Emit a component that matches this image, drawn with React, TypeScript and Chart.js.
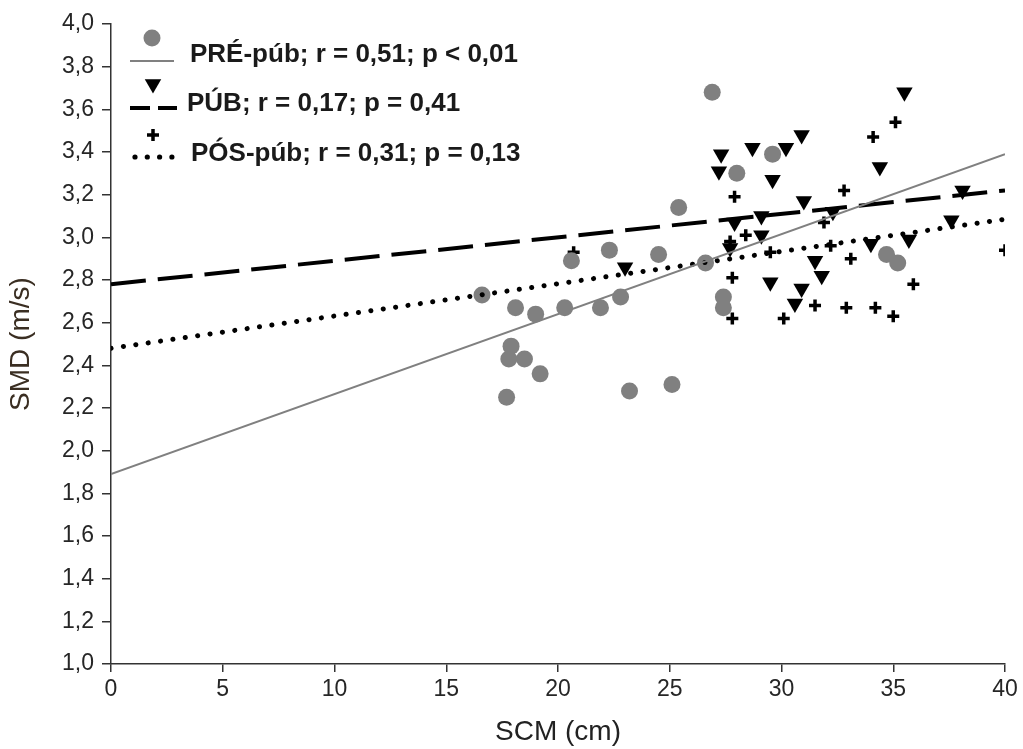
import React, { useEffect, useRef } from "react";
import { Chart, registerables } from "chart.js";

Chart.register(...registerables);

// PRÉ-púb (gray circles)
const preX = [16.6, 18.1, 19.0, 20.3, 21.9, 22.8, 20.6, 22.3, 24.5, 17.9, 17.8, 18.5, 19.2, 17.7, 23.2, 25.1, 26.9, 28.0, 25.4, 26.6, 27.4, 27.4, 29.6, 34.7, 35.2];
const preY = [2.73, 2.67, 2.64, 2.67, 2.67, 2.72, 2.89, 2.94, 2.92, 2.49, 2.43, 2.43, 2.36, 2.25, 2.28, 2.31, 3.68, 3.30, 3.14, 2.88, 2.72, 2.67, 3.39, 2.92, 2.88];
// PÚB (black down triangles)
const pubX = [23.0, 27.3, 27.2, 28.7, 30.2, 30.9, 29.6, 35.5, 34.4, 31.0, 32.3, 27.9, 29.1, 29.1, 27.7, 38.1, 37.6, 34.0, 35.7, 31.5, 31.8, 29.5, 30.9, 30.6];
const pubY = [2.86, 3.39, 3.31, 3.42, 3.42, 3.48, 3.27, 3.68, 3.33, 3.17, 3.12, 3.07, 3.10, 3.01, 2.95, 3.22, 3.08, 2.97, 2.99, 2.89, 2.82, 2.79, 2.76, 2.69];
// PÓS-púb (black crosses)
const posX = [35.1, 34.1, 32.8, 27.9, 31.9, 28.4, 27.7, 29.5, 32.2, 33.1, 40.0, 27.8, 35.9, 31.5, 32.9, 34.2, 35.0, 27.8, 30.1, 20.7];
const posY = [3.54, 3.47, 3.22, 3.19, 3.07, 3.01, 2.98, 2.93, 2.96, 2.90, 2.94, 2.81, 2.78, 2.68, 2.67, 2.67, 2.63, 2.62, 2.62, 2.93];

// regression lines
const lineX = [0, 40];
const preLine = [1.89, 3.39];
const pubLine = [2.78, 3.22];
const posLine = [2.48, 3.085];

const legendLabels = [
  "PRÉ-púb; r = 0,51; p < 0,01",
  "PÚB; r = 0,17; p = 0,41",
  "PÓS-púb; r = 0,31; p = 0,13",
];

const xTitle = "SCM (cm)";
const yTitle = "SMD (m/s)";

const FONT = "'Liberation Sans', Arial, sans-serif";
const GRAY = "#808080";

const pts = (xs: number[], ys: number[]) => xs.map((x, i) => ({ x, y: ys[i] }));

const legendPlugin = {
  id: "customLegend",
  afterDraw(chart: any) {
    const { ctx, chartArea } = chart;
    const L = chartArea.left;
    const T = chartArea.top;
    ctx.save();
    // item 1: circle + solid line
    ctx.fillStyle = GRAY;
    ctx.beginPath();
    ctx.arc(L + 41, T + 14, 8.5, 0, Math.PI * 2);
    ctx.fill();
    ctx.strokeStyle = GRAY;
    ctx.lineWidth = 2;
    ctx.beginPath();
    ctx.moveTo(L + 19, T + 37);
    ctx.lineTo(L + 63, T + 37);
    ctx.stroke();
    // item 2: triangle + dashed line
    ctx.fillStyle = "#000";
    const tx = L + 42, ty = T + 60, r = 9.5;
    ctx.beginPath();
    for (let k = 0; k < 3; k++) {
      const a = Math.PI + k * (2 * Math.PI / 3);
      const px = tx + Math.sin(a) * r;
      const py = ty - Math.cos(a) * r;
      if (k === 0) ctx.moveTo(px, py); else ctx.lineTo(px, py);
    }
    ctx.closePath();
    ctx.fill();
    ctx.strokeStyle = "#000";
    ctx.lineWidth = 4;
    ctx.beginPath();
    ctx.moveTo(L + 19, T + 84);
    ctx.lineTo(L + 39, T + 84);
    ctx.moveTo(L + 47, T + 84);
    ctx.lineTo(L + 66, T + 84);
    ctx.stroke();
    // item 3: cross + dotted line
    ctx.lineWidth = 3.5;
    ctx.beginPath();
    ctx.moveTo(L + 42, T + 105);
    ctx.lineTo(L + 42, T + 117);
    ctx.moveTo(L + 36, T + 111);
    ctx.lineTo(L + 48, T + 111);
    ctx.stroke();
    for (let k = 0; k < 4; k++) {
      ctx.beginPath();
      ctx.arc(L + 24 + k * 12.3, T + 133, 2.6, 0, Math.PI * 2);
      ctx.fill();
    }
    // texts
    ctx.fillStyle = "#1a1a1a";
    ctx.font = `bold 26px ${FONT}`;
    ctx.textBaseline = "alphabetic";
    ctx.textAlign = "left";
    ctx.fillText(legendLabels[0], L + 79, T + 38);
    ctx.fillText(legendLabels[1], L + 76, T + 87);
    ctx.fillText(legendLabels[2], L + 80, T + 137);
    ctx.restore();
  },
};

export default function App() {
  const ref = useRef<HTMLCanvasElement | null>(null);
  useEffect(() => {
    if (!ref.current) return;
    const chart = new Chart(ref.current, {
      type: "scatter",
      data: {
        datasets: [
          {
            type: "line",
            label: "PRÉ line",
            data: pts(lineX, preLine),
            borderColor: GRAY,
            borderWidth: 2,
            pointRadius: 0,
            fill: false,
          },
          {
            type: "line",
            label: "PÚB line",
            data: pts(lineX, pubLine),
            borderColor: "#000",
            borderWidth: 4,
            borderDash: [35, 12],
            pointRadius: 0,
            fill: false,
          },
          {
            type: "line",
            label: "PÓS line",
            data: pts(lineX, posLine),
            borderColor: "#000",
            borderWidth: 5,
            borderDash: [0.1, 12.4],
            borderCapStyle: "round",
            pointRadius: 0,
            fill: false,
          },
          {
            label: legendLabels[0],
            data: pts(preX, preY),
            pointStyle: "circle",
            pointRadius: 8.5,
            backgroundColor: GRAY,
            borderColor: GRAY,
            borderWidth: 0,
          },
          {
            label: legendLabels[1],
            data: pts(pubX, pubY),
            pointStyle: "triangle",
            rotation: 180,
            pointRadius: 9.5,
            backgroundColor: "#000",
            borderColor: "#000",
            borderWidth: 0,
          },
          {
            label: legendLabels[2],
            data: pts(posX, posY),
            pointStyle: "cross",
            pointRadius: 6,
            backgroundColor: "#000",
            borderColor: "#000",
            borderWidth: 3.5,
          },
        ],
      },
      options: {
        responsive: false,
        animation: false,
        events: [],
        layout: { padding: { left: 0, right: 18, top: 24, bottom: 0 } },
        plugins: { legend: { display: false }, tooltip: { enabled: false } },
        scales: {
          x: {
            type: "linear",
            min: 0,
            max: 40,
            afterFit: (s: any) => { s.height = 85; },
            ticks: {
              stepSize: 5,
              color: "#262626",
              font: { family: FONT, size: 23 },
              padding: 4,
              maxRotation: 0,
            },
            grid: { drawOnChartArea: false, drawTicks: true, tickLength: 8, color: "#333", lineWidth: 1.5 },
            border: { display: true, color: "#333", width: 1.5 },
            title: {
              display: true,
              text: xTitle,
              color: "#222",
              font: { family: FONT, size: 28 },
              padding: { top: 0, bottom: 0 },
            },
          },
          y: {
            type: "linear",
            min: 1,
            max: 4,
            afterFit: (s: any) => { s.width = 111; },
            ticks: {
              stepSize: 0.2,
              color: "#262626",
              font: { family: FONT, size: 23 },
              padding: 8,
              callback: (v: any) => Number(v).toFixed(1).replace(".", ","),
            },
            grid: { drawOnChartArea: false, drawTicks: true, tickLength: 9, color: "#333", lineWidth: 1.5 },
            border: { display: true, color: "#333", width: 1.5 },
            title: {
              display: true,
              text: yTitle,
              color: "#3a2e22",
              font: { family: FONT, size: 28 },
              padding: { top: 4, bottom: 0 },
            },
          },
        },
      },
      plugins: [legendPlugin],
    } as any);
    return () => chart.destroy();
  }, []);
  return (
    <div style={{ position: "fixed", left: 0, top: 0, width: 1023, height: 749, background: "#fff" }}>
      <canvas ref={ref} width={1023} height={749} style={{ display: "block" }} />
    </div>
  );
}
